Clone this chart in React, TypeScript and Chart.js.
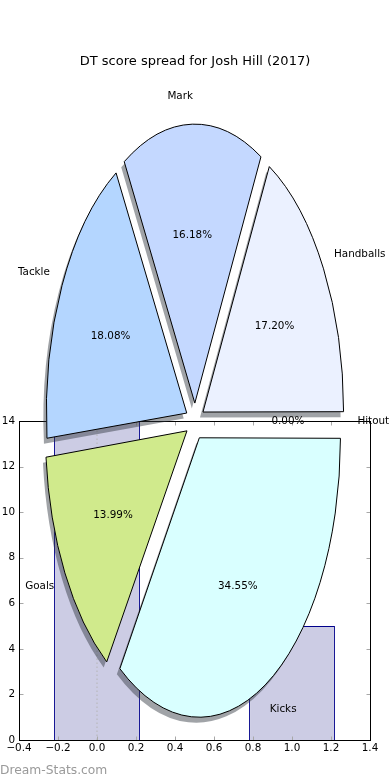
import { useEffect, useRef } from 'react';
import { Chart, registerables } from 'chart.js';

Chart.register(...registerables);

// ---------------- data ----------------
const TITLE = 'DT score spread for Josh Hill (2017)';
const SLICE_LABELS = ['Handballs', 'Mark', 'Tackle', 'Goals', 'Kicks', 'Hitout'];
const SLICE_VALUES = [17.2, 16.18, 18.08, 13.99, 34.55, 0];
const SLICE_COLORS = ['#ebf1ff', '#c4d8ff', '#b4d6ff', '#d0ea8c', '#d9ffff', '#ffffff'];

const BAR_X = [0, 1];
const BAR_VALUES = [14, 5];
const GUIDE_X = [0, 0];
const GUIDE_Y = [0, 14];

const X_MIN = -0.4;
const X_MAX = 1.4;
const X_STEP = 0.2;
const Y_MIN = 0;
const Y_MAX = 14;
const Y_STEP = 2;
const BAR_WIDTH = 0.44;
const WATERMARK = 'Dream-Stats.com';

// ---------------- style ----------------
const FONT = "'DejaVu Sans', sans-serif";
const TICK_SIZE = 10.4;
const LABEL_SIZE = 10.4;
const STRETCH = 1.98; // vertical stretch of the pie (non-equal aspect)
const PIE_RADIUS = 139.5;
const LABEL_RADIUS = 141;
const EXPLODE_PX = 9.3;

const framePlugin = {
  id: 'frame',
  afterDraw(chart: any) {
    const { ctx, chartArea: a, scales } = chart;
    const L = Math.round(a.left) + 0.5;
    const R = Math.round(a.right) + 0.5;
    const T = Math.round(a.top) + 0.5;
    const B = Math.round(a.bottom) + 0.5;
    ctx.save();
    ctx.strokeStyle = '#a8a8a8';
    ctx.lineWidth = 1;
    ctx.beginPath();
    scales.x.ticks.forEach((t: any) => {
      const px = Math.round(scales.x.getPixelForValue(t.value)) + 0.5;
      ctx.moveTo(px, B);
      ctx.lineTo(px, B - 4);
      ctx.moveTo(px, T);
      ctx.lineTo(px, T + 4);
    });
    scales.y.ticks.forEach((t: any) => {
      const py = Math.round(scales.y.getPixelForValue(t.value)) + 0.5;
      ctx.moveTo(L, py);
      ctx.lineTo(L + 4, py);
      ctx.moveTo(R, py);
      ctx.lineTo(R - 4, py);
    });
    ctx.stroke();
    ctx.strokeStyle = '#000';
    ctx.strokeRect(L, T, R - L, B - T);
    ctx.restore();
  },
};

const ellipsePlugin = {
  id: 'ellipse',
  beforeDatasetsDraw(chart: any) {
    const ctx = chart.ctx;
    const cy = (chart.chartArea.top + chart.chartArea.bottom) / 2;
    const base = ctx.getTransform();
    ctx.save();
    ctx.translate(0, cy);
    ctx.scale(1, STRETCH);
    ctx.translate(0, -cy);
    ctx.shadowColor = 'rgba(45,50,60,0.45)';
    ctx.shadowOffsetX = -3;
    ctx.shadowOffsetY = 5.5;
    ctx.shadowBlur = 0;
    const protoStroke = Object.getPrototypeOf(ctx).stroke;
    ctx.stroke = function (...args: any[]) {
      this.save();
      this.setTransform(base);
      this.shadowColor = 'rgba(0,0,0,0)';
      protoStroke.apply(this, args);
      this.restore();
    };
  },
  afterDatasetsDraw(chart: any) {
    const ctx = chart.ctx;
    delete ctx.stroke;
    ctx.restore();
  },
};

const pieTextPlugin = {
  id: 'pieText',
  afterDraw(chart: any) {
    const ctx = chart.ctx;
    const meta = chart.getDatasetMeta(0);
    const data: number[] = chart.data.datasets[0].data;
    const total = data.reduce((s, v) => s + v, 0);
    ctx.save();
    ctx.font = `${LABEL_SIZE}px ${FONT}`;
    ctx.fillStyle = '#000';
    ctx.textBaseline = 'middle';
    meta.data.forEach((el: any, i: number) => {
      const p = el.getProps(['x', 'y', 'startAngle', 'endAngle'], true);
      const off = (el.options.offset || 0) / 4;
      const h = (p.startAngle + p.endAngle) / 2;
      const at = (d: number) => [
        p.x + Math.cos(h) * (off + d * LABEL_RADIUS),
        p.y + STRETCH * Math.sin(h) * (off + d * LABEL_RADIUS),
      ];
      const [lx, ly] = at(1.1);
      const right = Math.cos(h) > 1e-9;
      ctx.textAlign = right ? 'left' : 'right';
      ctx.fillText(chart.data.labels[i], lx + (right ? -2 : 1), ly);
      const [qx, qy] = at(0.6);
      ctx.textAlign = 'center';
      ctx.fillText(((data[i] / total) * 100).toFixed(2) + '%', qx - 1, qy);
    });
    ctx.restore();
  },
};

export default function App() {
  const barRef = useRef<HTMLCanvasElement | null>(null);
  const pieRef = useRef<HTMLCanvasElement | null>(null);

  useEffect(() => {
    Chart.defaults.font.family = FONT;
    Chart.defaults.color = '#000';

    const tickFont = { family: FONT, size: TICK_SIZE };

    const bar = new Chart(barRef.current as HTMLCanvasElement, {
      type: 'bar',
      data: {
        datasets: [
          {
            type: 'line',
            data: GUIDE_X.map((x, i) => ({ x, y: GUIDE_Y[i] })),
            borderColor: '#b4b4b4',
            borderWidth: 1,
            borderDash: [1.5, 2.5],
            pointRadius: 0,
            order: 0,
          } as any,
          {
            type: 'bar',
            data: BAR_X.map((x, i) => ({ x, y: BAR_VALUES[i] })),
            backgroundColor: '#ccccE4',
            borderColor: '#00008b',
            borderWidth: 1,
            categoryPercentage: 1,
            barPercentage: BAR_WIDTH / X_STEP,
            order: 1,
          } as any,
        ],
      },
      options: {
        animation: false,
        responsive: false,
        events: [],
        layout: { padding: { left: 0, right: 20, top: 421, bottom: 0 } },
        scales: {
          x: {
            type: 'linear',
            min: X_MIN,
            max: X_MAX,
            offset: false,
            grid: { display: false, drawTicks: false, offset: false },
            border: { display: false },
            ticks: {
              stepSize: X_STEP,
              padding: 2.5,
              autoSkip: false,
              maxRotation: 0,
              font: tickFont,
              color: '#000',
              callback: (v: any) => {
                const n = Math.round(Number(v) * 10) / 10;
                return n.toFixed(1).replace('-', '\u2212');
              },
            },
            afterFit: (s: any) => {
              s.height = 40;
            },
          },
          y: {
            min: Y_MIN,
            max: Y_MAX,
            grid: { display: false, drawTicks: false },
            border: { display: false },
            ticks: {
              stepSize: Y_STEP,
              padding: 4,
              font: tickFont,
              color: '#000',
              callback: (v: any) => String(v),
            },
            afterFit: (s: any) => {
              s.width = 19;
            },
          },
        },
        plugins: { legend: { display: false }, tooltip: { enabled: false } },
      } as any,
      plugins: [framePlugin],
    });

    const order = SLICE_LABELS.map((_, i) => SLICE_LABELS.length - 1 - i);
    const pie = new Chart(pieRef.current as HTMLCanvasElement, {
      type: 'pie',
      data: {
        labels: order.map((i) => SLICE_LABELS[i]),
        datasets: [
          {
            data: order.map((i) => SLICE_VALUES[i]),
            backgroundColor: order.map((i) => SLICE_COLORS[i]),
            borderColor: '#000',
            borderWidth: 1,
            offset: EXPLODE_PX * 4,
            clip: false,
          } as any,
        ],
      },
      options: {
        animation: false,
        responsive: false,
        events: [],
        rotation: 90,
        radius: PIE_RADIUS,
        layout: { padding: { left: 0, right: 0, top: 0, bottom: 6.6 } },
        plugins: {
          legend: { display: false },
          tooltip: { enabled: false },
          title: {
            display: true,
            text: TITLE,
            color: '#000',
            font: { family: FONT, size: 13, weight: 'normal', lineHeight: 1.2 },
            padding: { top: 54, bottom: 0 },
          },
        },
      } as any,
      plugins: [ellipsePlugin, pieTextPlugin],
    });

    return () => {
      bar.destroy();
      pie.destroy();
    };
  }, []);

  return (
    <div
      style={{
        position: 'fixed',
        left: 0,
        top: 0,
        width: 390,
        height: 780,
        background: '#fff',
        overflow: 'hidden',
      }}
    >
      <canvas
        ref={barRef}
        width={390}
        height={780}
        style={{ position: 'absolute', left: 0, top: 0, width: 390, height: 780 }}
      />
      <canvas
        ref={pieRef}
        width={390}
        height={780}
        style={{ position: 'absolute', left: 0, top: 0, width: 390, height: 780 }}
      />
      <div
        style={{
          position: 'absolute',
          left: 0,
          top: 764,
          fontFamily: FONT,
          fontSize: '12.3px',
          lineHeight: '12.3px',
          color: '#9a9a9a',
          whiteSpace: 'nowrap',
        }}
      >
        {WATERMARK}
      </div>
    </div>
  );
}
